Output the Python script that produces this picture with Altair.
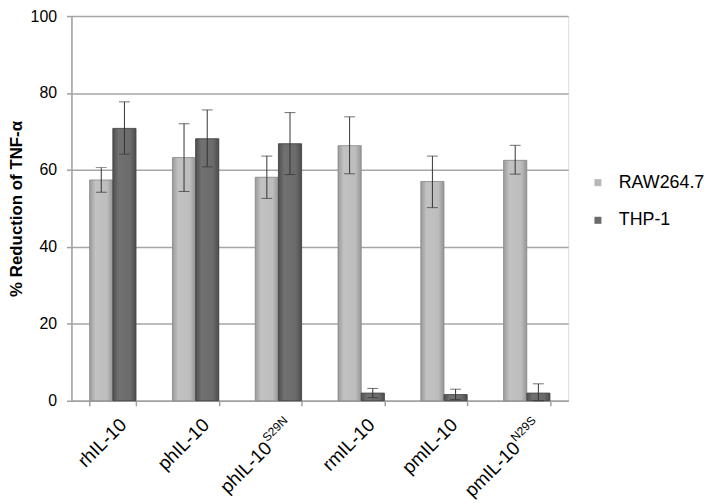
import altair as alt
import pandas as pd

categories = ["rhIL-10", "phIL-10", "phIL-10 S29N", "rmIL-10", "pmIL-10", "pmIL-10 N29S"]
label_main = ["rhIL-10", "phIL-10", "phIL-10", "rmIL-10", "pmIL-10", "pmIL-10"]
label_sup = ["", "", "S29N", "", "", "N29S"]
series = ["RAW264.7", "THP-1"]

raw_values = [57.4, 63.2, 58.1, 66.3, 57.0, 62.5]
raw_err_hi = [60.6, 72.0, 63.6, 73.8, 63.6, 66.4]
raw_err_lo = [54.2, 54.4, 52.6, 59.0, 50.2, 58.9]
thp_values = [70.8, 68.1, 66.8, 2.0, 1.6, 2.0]
thp_err_hi = [77.7, 75.6, 74.9, 3.2, 3.0, 4.4]
thp_err_lo = [64.1, 60.8, 58.8, 0.8, 0.3, 0.0]

rows = []
for i, c in enumerate(categories):
    rows.append({"cat": c, "series": series[0], "value": raw_values[i], "lo": raw_err_lo[i], "hi": raw_err_hi[i]})
    rows.append({"cat": c, "series": series[1], "value": thp_values[i], "lo": thp_err_lo[i], "hi": thp_err_hi[i]})
df = pd.DataFrame(rows)

labels_df = pd.DataFrame({"cat": categories, "main": label_main, "sup": label_sup})

FONT = "Liberation Sans"
W, H = 501, 388

x_enc = alt.X(
    "cat:N",
    sort=categories,
    scale=alt.Scale(paddingInner=0.44, paddingOuter=0.22),
    axis=alt.Axis(labels=False, title=None, ticks=True, tickBand="extent", tickSize=5,
                  domainColor="#a0a0a0", tickColor="#a0a0a0", domainWidth=1.5, tickWidth=1.5, grid=False),
)
y_enc = alt.Y(
    "value:Q",
    scale=alt.Scale(domain=[0, 100]),
    axis=alt.Axis(values=[0, 20, 40, 60, 80, 100], title="% Reduction of TNF-α",
                  titleFont=FONT, titleFontSize=17, titleFontWeight="bold", titleColor="black",
                  titlePadding=5,
                  labelFont=FONT, labelFontSize=16, labelColor="black", labelPadding=10,
                  tickSize=5, tickColor="#a0a0a0", tickWidth=1.5,
                  domainColor="#a0a0a0", domainWidth=1.5,
                  grid=True, gridColor="#a6a6a6", gridWidth=1.5),
)
xoff = alt.XOffset("series:N", sort=series, scale=alt.Scale(paddingInner=0, paddingOuter=0))

bars = alt.Chart(df).mark_bar(strokeWidth=0).encode(
    x=x_enc, y=y_enc, xOffset=xoff,
    color=alt.Color("series:N", sort=series,
                    scale=alt.Scale(domain=series, range=["#b8b8b8", "#6a6a6a"]),
                    legend=alt.Legend(title=None, orient="none", legendX=522, legendY=159,
                                      labelFont=FONT, labelFontSize=18, labelColor="black",
                                      symbolType="square", symbolSize=50, symbolStrokeWidth=0,
                                      rowPadding=20, labelOffset=12, padding=0)),
)

grad_raw = alt.Gradient(gradient="linear", x1=0, x2=1, y1=0, y2=0,
                        stops=[alt.GradientStop(color="#9a9a9a", offset=0),
                               alt.GradientStop(color="#c2c2c2", offset=0.25),
                               alt.GradientStop(color="#bdbdbd", offset=0.75),
                               alt.GradientStop(color="#959595", offset=1)])
grad_thp = alt.Gradient(gradient="linear", x1=0, x2=1, y1=0, y2=0,
                        stops=[alt.GradientStop(color="#505050", offset=0),
                               alt.GradientStop(color="#717171", offset=0.25),
                               alt.GradientStop(color="#6b6b6b", offset=0.75),
                               alt.GradientStop(color="#4c4c4c", offset=1)])

over_raw = alt.Chart(df).transform_filter(alt.datum.series == series[0]).mark_bar(
    color=grad_raw, stroke="#8a8a8a", strokeWidth=0.8).encode(x=x_enc, y=y_enc, xOffset=xoff)
over_thp = alt.Chart(df).transform_filter(alt.datum.series == series[1]).mark_bar(
    color=grad_thp, stroke="#444444", strokeWidth=0.8).encode(x=x_enc, y=y_enc, xOffset=xoff)

err = alt.Chart(df).mark_rule(color="#333333", strokeWidth=1).encode(
    x=x_enc, xOffset=xoff, y=alt.Y("lo:Q"), y2="hi:Q")
cap_hi = alt.Chart(df).mark_tick(color="#333333", thickness=1, size=11, orient="horizontal").encode(
    x=x_enc, xOffset=xoff, y=alt.Y("hi:Q"))
cap_lo = alt.Chart(df).mark_tick(color="#333333", thickness=1, size=11, orient="horizontal").encode(
    x=x_enc, xOffset=xoff, y=alt.Y("lo:Q"))

lab_plain = alt.Chart(labels_df).transform_filter(alt.datum.sup == "").mark_text(
    angle=315, align="right", baseline="top", font=FONT, fontSize=19, color="black", dx=3, dy=3).encode(
    x=x_enc, y=alt.value(H + 15), text="main:N")
lab_base = alt.Chart(labels_df).transform_filter(alt.datum.sup != "").mark_text(
    angle=315, align="right", baseline="top", font=FONT, fontSize=19, color="black", dx=-28, dy=5).encode(
    x=x_enc, y=alt.value(H + 15), text="main:N")
lab_sup = alt.Chart(labels_df).transform_filter(alt.datum.sup != "").mark_text(
    angle=315, align="right", baseline="top", font=FONT, fontSize=12, color="black", dx=3, dy=2).encode(
    x=x_enc, y=alt.value(H + 15), text="sup:N")

chart = alt.layer(bars, over_raw, over_thp, err, cap_hi, cap_lo, lab_plain, lab_base, lab_sup).properties(
    width=W, height=H,
    autosize=alt.AutoSizeParams(type="none"),
    padding={"left": 64, "top": 6, "right": 138, "bottom": 100},
).configure_view(stroke=None).configure(background="white")

chart.save("out.html", embed_options={"renderer": "svg", "actions": False})
